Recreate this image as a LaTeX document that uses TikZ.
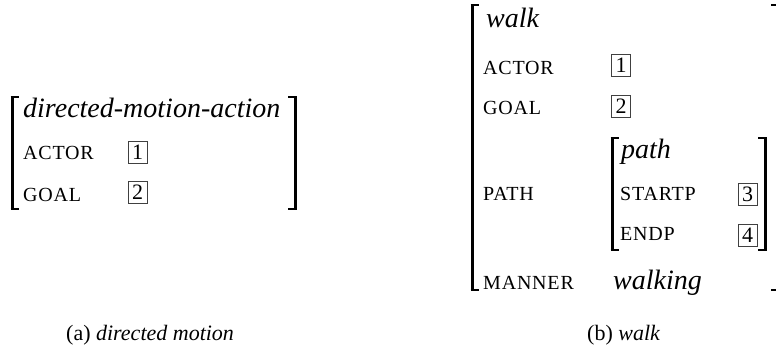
\documentclass[tikz,border=0pt]{standalone}
\usepackage{fontspec}
\setmainfont{Liberation Serif}
% capitals set small and a little spaced, for the feature names
\newfontfamily\featfont[LetterSpace=4]{Liberation Serif}
\begin{document}
\begin{tikzpicture}[x=1pt,y=-1pt,
  fstype/.style={anchor=base west, inner sep=0pt, font=\fontsize{28}{32}\selectfont\itshape},
  fsattr/.style={anchor=base west, inner sep=0pt, font=\fontsize{20}{23}\featfont},
  tagbox/.style={draw=black!75, line width=0.9pt, minimum width=19pt, minimum height=22pt,
                 inner sep=0pt, font=\fontsize{22}{24}\selectfont},
  subcap/.style={anchor=base west, inner sep=0pt, font=\fontsize{22}{26}\selectfont},
  bar/.style={line width=3pt},
  tick/.style={line width=1.6pt}]
\useasboundingbox (0,0) rectangle (776,350);

% opening bracket: #1 = x of the stroke, #2 = top, #3 = bottom
\def\openbr#1#2#3{%
  \draw[bar] (#1,#2) -- (#1,#3);
  \draw[tick] (#1-1.5,#2) -- (#1+7,#2);
  \draw[tick] (#1-1.5,#3) -- (#1+7,#3);}
% closing bracket
\def\closebr#1#2#3{%
  \draw[bar] (#1,#2) -- (#1,#3);
  \draw[tick] (#1+1.5,#2) -- (#1-7,#2);
  \draw[tick] (#1+1.5,#3) -- (#1-7,#3);}

% ---- (a) directed motion ----
\openbr{12}{97}{209}
\closebr{295}{97}{209}
\node[fstype] (dma) at (23,118) {directed-motion-action};
\node[fsattr] (aactor) at (23,160) {ACTOR};
\node[tagbox] (atag1) at (137.5,152) {1};
\node[fsattr] (agoal) at (23,201) {GOAL};
\node[tagbox] (atag2) at (137.5,192.5) {2};
\node[subcap] (capa) at (66,340) {(a) \textit{directed motion}};

% ---- (b) walk ----
\openbr{472}{5}{290}
\closebr{778}{5}{290}
\node[fstype] (walk) at (486,28) {walk};
\node[fsattr] (bactor) at (483,75) {ACTOR};
\node[tagbox] (btag1) at (621,65) {1};
\node[fsattr] (bgoal) at (483,114) {GOAL};
\node[tagbox] (btag2) at (621,106) {2};
\node[fsattr] (bpath) at (483,200) {PATH};
% embedded path structure
\openbr{612}{138}{250}
\closebr{765}{138}{250}
\node[fstype] (path) at (621,158) {path};
\node[fsattr] (startp) at (620,200) {STARTP};
\node[tagbox] (btag3) at (747.5,194.5) {3};
\node[fsattr] (endp) at (620,240) {ENDP};
\node[tagbox] (btag4) at (747.5,235.5) {4};
\node[fsattr] (manner) at (483,289) {MANNER};
\node[fstype] (walking) at (613,289) {walking};
\node[subcap] (capb) at (587,340) {(b) \textit{walk}};
\end{tikzpicture}
\end{document}
